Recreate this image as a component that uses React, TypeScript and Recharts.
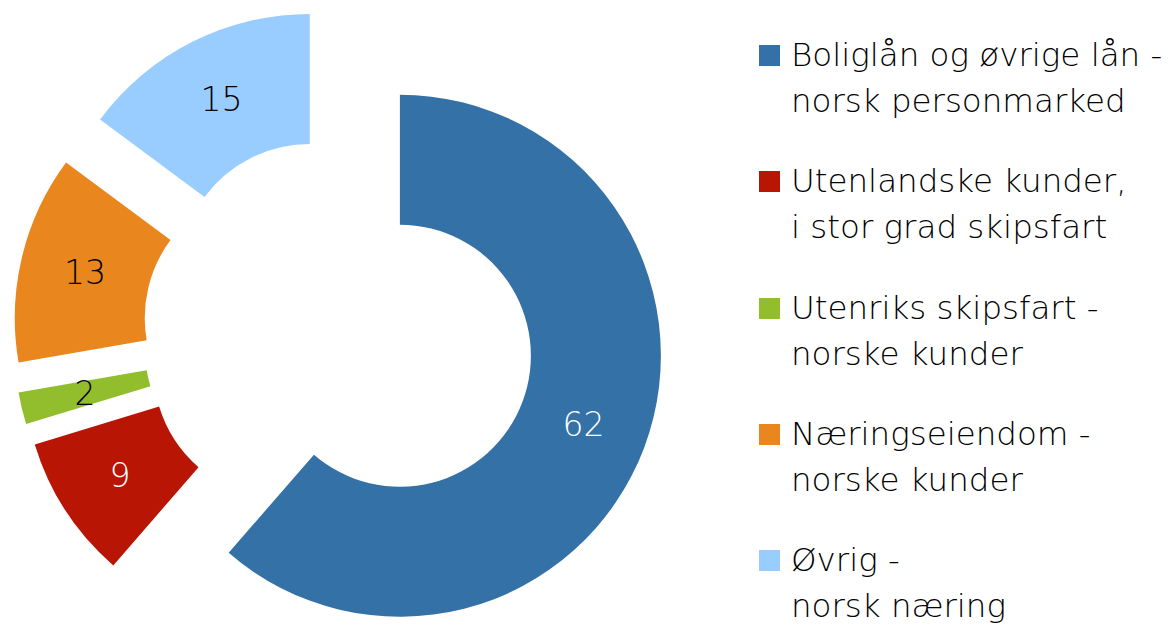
import React from "react";
import { PieChart, Pie, Cell, Sector, Legend } from "recharts";

// andel av utlån, prosent
const categories = [
  ["Boliglån og øvrige lån -", "norsk personmarked"],
  ["Utenlandske kunder,", "i stor grad skipsfart"],
  ["Utenriks skipsfart -", "norske kunder"],
  ["Næringseiendom -", "norske kunder"],
  ["Øvrig -", "norsk næring"],
];
const values = [62, 9, 2, 13, 15];
const colors = ["#3371A6", "#B81504", "#92BD2D", "#E9861E", "#99CCFF"];
const labelColors = ["#ffffff", "#ffffff", "#000000", "#000000", "#000000"];

const data = values.map((v, i) => ({ name: categories[i].join(" "), value: v }));

const FONT = "'DejaVu Sans', sans-serif";
const EXPLODE = 65;
const RAD = Math.PI / 180;

function ExplodedSector(props: any) {
  const { cx, cy, midAngle, innerRadius, outerRadius, startAngle, endAngle, fill } = props;
  const dx = EXPLODE * Math.cos(-midAngle * RAD);
  const dy = EXPLODE * Math.sin(-midAngle * RAD);
  return (
    <Sector
      cx={cx + dx}
      cy={cy + dy}
      innerRadius={innerRadius}
      outerRadius={outerRadius}
      startAngle={startAngle}
      endAngle={endAngle}
      fill={fill}
      stroke="none"
    />
  );
}

function renderLabel(props: any) {
  const { cx, cy, midAngle, innerRadius, outerRadius, index, value } = props;
  const r = (innerRadius + outerRadius) / 2 + EXPLODE;
  const x = cx + r * Math.cos(-midAngle * RAD);
  const y = cy + r * Math.sin(-midAngle * RAD);
  return (
    <text
      x={x}
      y={y}
      fill={labelColors[index]}
      textAnchor="middle"
      dominantBaseline="central"
      fontFamily={FONT}
      fontWeight={200}
      fontSize={33}
    >
      {value}
    </text>
  );
}

function renderLegend() {
  return (
    <div style={{ position: "relative", width: 420, height: 629, fontFamily: FONT, fontWeight: 200 }}>
      {categories.map((lines, i) => (
        <div key={i} style={{ position: "absolute", left: 0, top: 32 + i * 126.25 }}>
          <div
            style={{
              position: "absolute",
              left: 0,
              top: 13,
              width: 21,
              height: 21,
              background: colors[i],
            }}
          />
          <div style={{ position: "absolute", left: 32, top: 0, fontSize: 32.5, lineHeight: "46px", color: "#000", whiteSpace: "nowrap" }}>
            {lines.map((l, j) => (
              <div key={j}>{l}</div>
            ))}
          </div>
        </div>
      ))}
    </div>
  );
}

export default function App() {
  return (
    <div style={{ position: "absolute", left: 0, top: 0, width: 1170, height: 629, background: "#fff" }}>
      <PieChart width={1170} height={629} margin={{ top: 0, right: 0, bottom: 0, left: 0 }}>
        <Pie
          data={data}
          dataKey="value"
          nameKey="name"
          cx={339}
          cy={333}
          innerRadius={131}
          outerRadius={261}
          startAngle={90}
          endAngle={-270}
          stroke="none"
          shape={ExplodedSector}
          label={renderLabel}
          labelLine={false}
          isAnimationActive={false}
        >
          {values.map((_, i) => (
            <Cell key={i} fill={colors[i]} />
          ))}
        </Pie>
        <Legend
          content={renderLegend}
          wrapperStyle={{ position: "absolute", left: 759, top: 0, width: 420, height: 629 }}
        />
      </PieChart>
    </div>
  );
}
